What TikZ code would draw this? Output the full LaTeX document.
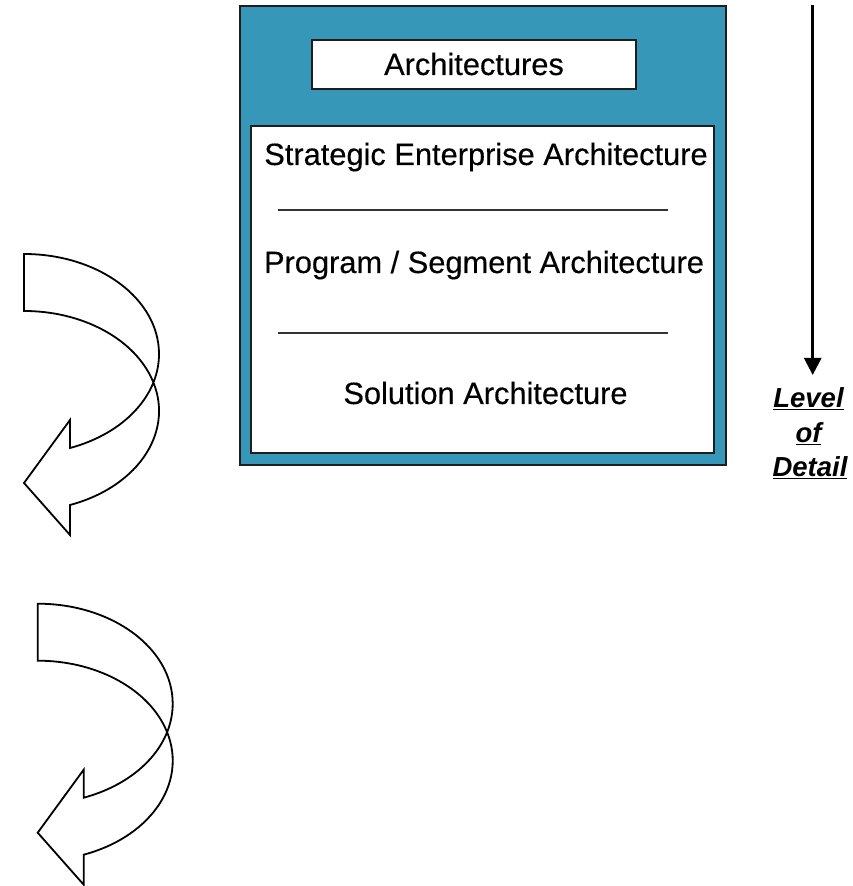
\documentclass[tikz,border=0pt]{standalone}
\usepackage{fontspec}
\setmainfont{Liberation Sans}
\newfontfamily\heavysans[FakeBold=0.35]{Liberation Sans}
\usetikzlibrary{arrows.meta}
\definecolor{boxblue}{RGB}{55,151,185}
\definecolor{edge}{RGB}{30,30,30}
\tikzset{
  mainfont/.style={font=\heavysans\fontsize{30.8pt}{36pt}\selectfont, text=black, inner sep=0pt},
  lodfont/.style={font=\fontsize{27.5pt}{32pt}\selectfont\bfseries\itshape, text=black, inner sep=0pt, anchor=base},
  boxframe/.style={draw=edge, line width=2pt, inner sep=0pt},
  sepline/.style={draw=black!80, line width=1.4pt},
  curvearrow/.style={draw=black, line width=1.8pt, line join=miter},
  detailarrow/.style={draw=black, line width=2.6pt, -{Triangle[length=17pt,width=17pt]}}
}
\begin{document}
\begin{tikzpicture}[x=1pt,y=1pt]
\useasboundingbox (0,0) rectangle (852,886);
% main box
\node[boxframe, fill=boxblue, minimum width=486pt, minimum height=459pt] (outer) at (483,650.5) {};
\node[boxframe, fill=white, minimum width=324pt, minimum height=49pt] (archbox) at (474,821.5) {};
\node[mainfont, anchor=base] (archtxt) at (474,811) {Architectures};
\node[boxframe, fill=white, minimum width=463pt, minimum height=327pt] (inner) at (482.5,596.5) {};
\node[mainfont, anchor=base] (sea) at (486,721) {Strategic Enterprise Architecture};
\node[mainfont, anchor=base] (psa) at (484,613) {Program / Segment Architecture};
\node[mainfont, anchor=base] (sa) at (485.5,482) {Solution Architecture};
\coordinate (l1a) at (278,676); \coordinate (l1b) at (668,676);
\coordinate (l2a) at (278,553); \coordinate (l2b) at (668,553);
\draw[sepline] (l1a) -- (l1b);
\draw[sepline] (l2a) -- (l2b);
% level of detail
\coordinate (atop) at (812.7,881);
\coordinate (abot) at (812.7,511);
\draw[detailarrow] (atop) -- (abot);
\node[lodfont] (lvl1) at (808.5,478) {\underline{Level}};
\node[lodfont] (lvl2) at (808.5,443.5) {\underline{of}};
\node[lodfont] (lvl3) at (810,409) {\underline{Detail}};
% curved arrows
\foreach \dx/\dy in {0/0, 13.7/-349.7}{
  \begin{scope}[shift={(\dx,\dy)}]
    \draw[curvearrow] (24,632) arc[start angle=90, end angle=-70.08, x radius=135pt, y radius=100pt]
      -- (70,466) -- (24,403) -- (70,351) -- (70,381)
      arc[start angle=-70.08, end angle=90, x radius=135pt, y radius=100pt] -- cycle;
  \end{scope}
}
\end{tikzpicture}
\end{document}
